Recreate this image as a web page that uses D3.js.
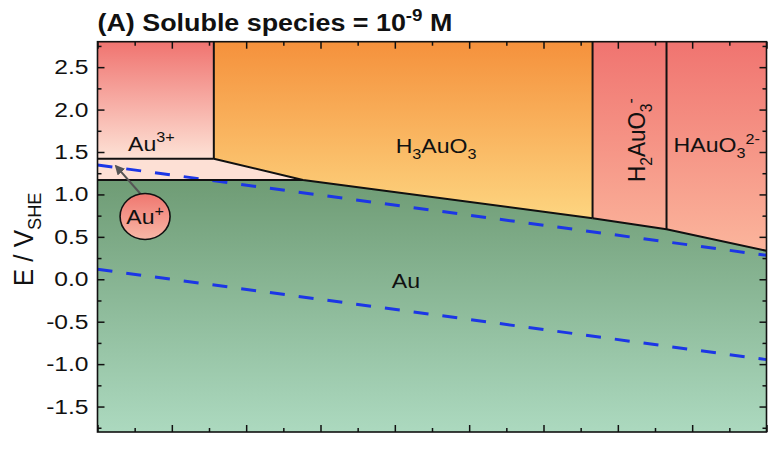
<!DOCTYPE html>
<html>
<head>
<meta charset="utf-8">
<script src="https://cdn.jsdelivr.net/npm/d3@7"></script>
<style>
  body { margin: 0; background: #fff; }
  text { font-family: "Liberation Sans", Arial, sans-serif; fill: #111; }
</style>
</head>
<body>
<div id="chart"></div>
<script>
// pH and potential ranges of the diagram
const phDomain = [-2, 16];
const eDomain = [-1.8, 2.8];
const xMajorTicks = [-2, 0, 2, 4, 6, 8, 10, 12, 14, 16];
const xMinorTicks = [-1, 1, 3, 5, 7, 9, 11, 13, 15];
const yMajorTicks = [-1.5, -1.0, -0.5, 0.0, 0.5, 1.0, 1.5, 2.0, 2.5];
const yMinorTicks = [-1.75, -1.25, -0.75, -0.25, 0.25, 0.75, 1.25, 1.75, 2.25, 2.75];

// boundary points [pH, E]
const auTop = [[-2, 1.17], [3.53, 1.17], [11.32, 0.72], [13.31, 0.59], [16, 0.335]];
const auPlusRegion = [[-2, 1.17], [3.53, 1.17], [1.13, 1.42], [-2, 1.42]];
const au3Region = [[-2, 1.42], [1.13, 1.42], [1.13, 2.8], [-2, 2.8]];
const h3Region = [[1.13, 1.42], [3.53, 1.17], [11.32, 0.72], [11.32, 2.8], [1.13, 2.8]];
const h2Region = [[11.32, 0.72], [13.31, 0.59], [13.31, 2.8], [11.32, 2.8]];
const hRegion = [[13.31, 0.59], [16, 0.335], [16, 2.8], [13.31, 2.8]];

// black phase boundaries
const boundaries = [
  [[-2, 1.42], [1.13, 1.42]],
  [[1.13, 1.42], [1.13, 2.8]],
  [[-2, 1.17], [3.53, 1.17]],
  [[1.13, 1.42], [3.53, 1.17], [11.32, 0.72]],
  [[11.32, 0.72], [11.32, 2.8]],
  [[11.32, 0.72], [13.31, 0.59], [16, 0.335]],
  [[13.31, 0.59], [13.31, 2.8]]
];

// water stability lines (dashed)
const waterUpper = [[-2, 1.347], [16, 0.282]];
const waterLower = [[-2, 0.118], [16, -0.947]];

const W = 783, H = 459;
const margin = {top: 41.7, right: 16.5, bottom: 27, left: 97.5};

const svg = d3.select("#chart").append("svg")
  .attr("width", W)
  .attr("height", H);

const x = d3.scaleLinear().domain(phDomain).range([margin.left, W - margin.right]);
const y = d3.scaleLinear().domain(eDomain).range([H - margin.bottom, margin.top]);

const line = d3.line().x(d => x(d[0])).y(d => y(d[1]));

// gradients
const defs = svg.append("defs");
function vGrad(id, e0, e1, c0, c1) {
  const g = defs.append("linearGradient")
    .attr("id", id)
    .attr("gradientUnits", "userSpaceOnUse")
    .attr("x1", 0).attr("x2", 0)
    .attr("y1", y(e0)).attr("y2", y(e1));
  g.append("stop").attr("offset", 0).attr("stop-color", c0);
  g.append("stop").attr("offset", 1).attr("stop-color", c1);
}
vGrad("gAu", 1.2, -1.8, "#6e9b74", "#acd9bf");
vGrad("gAu3", 2.8, 1.42, "#f07470", "#fde2d6");
vGrad("gH3", 2.8, 0.72, "#f5913c", "#fdd580");
vGrad("gRed", 2.8, 0.33, "#f07470", "#fbb59c");
vGrad("gCircle", 0.98, 0.5, "#f07a72", "#f8b4a4");

defs.append("marker")
  .attr("id", "arrow")
  .attr("viewBox", "0 0 10 10")
  .attr("refX", 8).attr("refY", 5)
  .attr("markerWidth", 5).attr("markerHeight", 5)
  .attr("orient", "auto-start-reverse")
  .append("path")
  .attr("d", "M0,0 L10,5 L0,10 z")
  .attr("fill", "#555");

svg.append("clipPath").attr("id", "plotClip")
  .append("rect")
  .attr("x", margin.left).attr("y", margin.top)
  .attr("width", W - margin.left - margin.right)
  .attr("height", H - margin.top - margin.bottom);

const plot = svg.append("g").attr("clip-path", "url(#plotClip)");

// regions
const auRegion = auTop.concat([[16, -1.8], [-2, -1.8]]);
const regions = [
  [auRegion, "url(#gAu)"],
  [auPlusRegion, "#fde0d5"],
  [au3Region, "url(#gAu3)"],
  [h3Region, "url(#gH3)"],
  [h2Region, "url(#gRed)"],
  [hRegion, "url(#gRed)"]
];
plot.selectAll("path.region")
  .data(regions)
  .join("path")
  .attr("class", "region")
  .attr("d", d => line(d[0]) + "Z")
  .attr("fill", d => d[1]);

// water lines
plot.selectAll("path.water")
  .data([waterUpper, waterLower])
  .join("path")
  .attr("class", "water")
  .attr("d", line)
  .attr("fill", "none")
  .attr("stroke", "#1c36e6")
  .attr("stroke-width", 3)
  .attr("stroke-dasharray", "15,14");

// phase boundaries
plot.selectAll("path.bound")
  .data(boundaries)
  .join("path")
  .attr("class", "bound")
  .attr("d", line)
  .attr("fill", "none")
  .attr("stroke", "#111")
  .attr("stroke-width", 2)
  .attr("stroke-linejoin", "round");

// axes with inward ticks
const fmt = d => d3.format(".1f")(d).replace("\u2212", "-");
function tickAxis(axisFn, scale, values, size, tx, ty, labels) {
  const ax = axisFn(scale).tickValues(values).tickSizeInner(-size).tickSizeOuter(0);
  if (labels) ax.tickPadding(9).tickFormat(fmt);
  else ax.tickFormat("");
  const g = svg.append("g").attr("transform", `translate(${tx},${ty})`).call(ax);
  g.select(".domain").remove();
  g.selectAll(".tick line").attr("stroke", "#111").attr("stroke-width", 1.5);
  return g;
}
const bottomY = H - margin.bottom, rightX = W - margin.right;
tickAxis(d3.axisBottom, x, xMajorTicks, 7, 0, bottomY, false);
tickAxis(d3.axisBottom, x, xMinorTicks, 4, 0, bottomY, false);
tickAxis(d3.axisTop, x, xMajorTicks, 7, 0, margin.top, false);
tickAxis(d3.axisTop, x, xMinorTicks, 4, 0, margin.top, false);
const yAx = tickAxis(d3.axisLeft, y, yMajorTicks, 7, margin.left, 0, true);
tickAxis(d3.axisLeft, y, yMinorTicks, 4, margin.left, 0, false);
tickAxis(d3.axisRight, y, yMajorTicks, 7, rightX, 0, false);
tickAxis(d3.axisRight, y, yMinorTicks, 4, rightX, 0, false);

yAx.selectAll(".tick text")
  .attr("font-size", 20.5)
  .attr("font-family", "Liberation Sans, Arial, sans-serif")
  .attr("fill", "#111")
  .attr("transform", "scale(1.2,1)")
  .attr("x", -9 / 1.2);

// frame
svg.append("rect")
  .attr("x", margin.left).attr("y", margin.top)
  .attr("width", W - margin.left - margin.right)
  .attr("height", H - margin.top - margin.bottom)
  .attr("fill", "none")
  .attr("stroke", "#111")
  .attr("stroke-width", 1.6);

// text with sub/superscripts
function richText(parent, parts, fs) {
  const t = parent.append("text").attr("font-size", fs);
  let shift = 0;
  parts.forEach(([s, k]) => {
    const target = k === "sub" ? fs * 0.3 : k === "sup" ? -fs * 0.4 : 0;
    t.append("tspan")
      .attr("dy", target - shift)
      .attr("font-size", k ? fs * 0.7 : fs)
      .text(s);
    shift = target;
  });
  return t;
}
function label(px, py, parts, fs, opts = {}) {
  const g = svg.append("g")
    .attr("transform", `translate(${px},${py}) scale(${opts.sx || 1.1},1)` + (opts.rotate ? ` rotate(${opts.rotate})` : ""));
  const t = richText(g, parts, fs).attr("text-anchor", opts.anchor || "start");
  if (opts.bold) t.attr("font-weight", "bold");
  return t;
}

// Au+ bubble with arrow
svg.append("line")
  .attr("x1", x(-0.81)).attr("y1", y(0.99))
  .attr("x2", x(-1.5)).attr("y2", y(1.333))
  .attr("stroke", "#555").attr("stroke-width", 2)
  .attr("marker-end", "url(#arrow)");
svg.append("ellipse")
  .attr("cx", x(-0.72)).attr("cy", y(0.74))
  .attr("rx", 25).attr("ry", 23)
  .attr("fill", "url(#gCircle)")
  .attr("stroke", "#111").attr("stroke-width", 1.6);

label(x(-0.72), y(0.74) + 8, [["Au", ""], ["+", "sup"]], 21, {anchor: "middle"});
label(x(-1.18), y(1.517), [["Au", ""], ["3+", "sup"]], 21);
label(x(7.11), y(1.494), [["H", ""], ["3", "sub"], ["AuO", ""], ["3", "sub"]], 21, {anchor: "middle"});
label(x(6.3), y(-0.103), [["Au", ""]], 21, {anchor: "middle"});
label(x(13.3) - 21, y(1.64), [["H", ""], ["2", "sub"], ["AuO", ""], ["3", "sub"], ["-", "sup"]], 22.5, {anchor: "middle", rotate: -90, sx: 1.05});
label(x(13.5), y(1.5), [["HAuO", ""], ["3", "sub"], ["2-", "sup"]], 21);

// title
label(margin.left, 31, [["(A) Soluble species = 10", ""], ["-9", "sup"], [" M", ""]], 24, {bold: true, sx: 1.12});

// y axis label
label(33, y(0.47), [["E / V", ""], ["SHE", "sub"]], 26, {anchor: "middle", rotate: -90, sx: 1.05});

// top of the x axis label, cut off by the frame
label(421, 470, [["2", ""]], 15, {anchor: "middle"});
</script>
</body>
</html>
